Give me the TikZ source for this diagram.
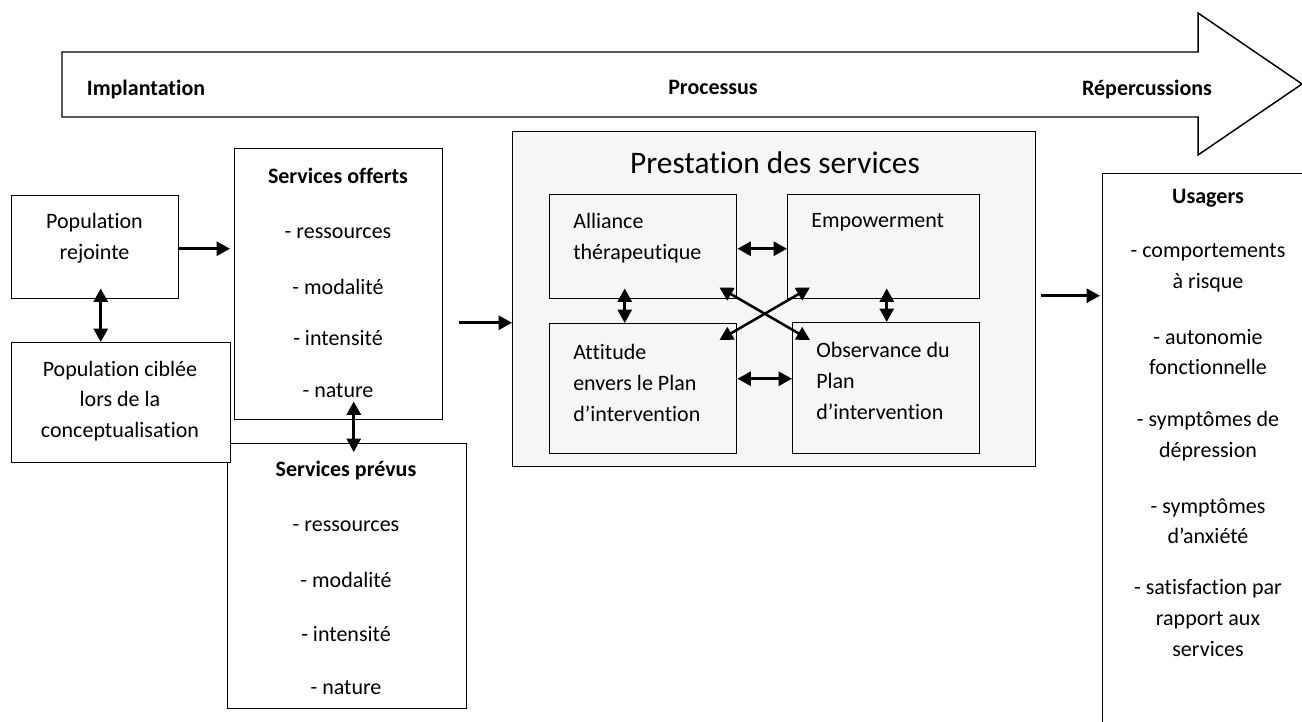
\documentclass[tikz,border=0pt]{standalone}
\usepackage{fontspec}
\setmainfont{Carlito}[Ligatures=NoCommon]
\usetikzlibrary{arrows.meta,calc}
\newlength\px \setlength\px{0.75pt}
\definecolor{prgray}{RGB}{246,246,246}
\begin{document}
\begin{tikzpicture}[x=0.75pt,y=-0.75pt,
  box/.style={draw, line width=1.1pt, inner sep=0pt, anchor=north west, fill=white},
  gbox/.style={box, fill=prgray},
  txt/.style={font=\fontsize{16.5}{23}\selectfont, inner sep=0pt, align=center},
  btxt/.style={font=\fontsize{16.5}{23}\selectfont\bfseries, inner sep=0pt, align=center},
  ltxt/.style={txt, align=left, anchor=west},
  arr/.style={line width=1.9pt, -{Triangle[length=10pt,width=10.5pt]}},
  dbl/.style={line width=1.9pt, {Triangle[length=10pt,width=10.5pt]}-{Triangle[length=10pt,width=10.5pt]}},
]
\useasboundingbox (0,0) rectangle (1302,721);
\clip (0,0) rectangle (1302,721);
\fill[white] (0,0) rectangle (1302,721);

% big process arrow
\draw[line width=1.1pt, line join=miter] (62,52) -- (1198,52) -- (1198,13) -- (1302,84) -- (1198,155) -- (1198,117) -- (62,117) -- cycle;
\node[btxt, anchor=base] (limp) at (146,95) {Implantation};
\node[btxt, anchor=base] (lpro) at (713,94) {Processus};
\node[btxt, anchor=base] (lrep) at (1147,95) {Répercussions};

% left boxes
\node[box, minimum width=167\px, minimum height=103\px] (pr) at (11,195) {};
\node[txt] at (94.5,238) {Population\\rejointe};

\node[box, minimum width=208\px, minimum height=271\px] (so) at (234,148) {};
\node[btxt] at (338,176) {Services offerts};
\node[txt] at (338,233) {- ressources};
\node[txt] at (338,287) {- modalité};
\node[txt] at (338,338) {- intensité};
\node[txt] at (338,391) {- nature};

\node[box, minimum width=239\px, minimum height=265\px] (sp) at (227,443) {};
\node[btxt] at (346,471) {Services prévus};
\node[txt] at (346,526) {- ressources};
\node[txt] at (346,580) {- modalité};
\node[txt] at (346,634) {- intensité};
\node[txt] at (346,688) {- nature};

\node[box, minimum width=219\px, minimum height=120\px] (pc) at (11,342) {};
\node[txt] at (120,401) {Population ciblée\\lors de la\\conceptualisation};

% prestation des services
\node[gbox, minimum width=523\px, minimum height=335\px] (ps) at (512,131) {};
\node[font=\fontsize{23.5}{28}\selectfont, inner sep=0pt] at (775,163) {Prestation des services};

\node[gbox, minimum width=187\px, minimum height=104\px] (al) at (549,194) {};
\node[ltxt] at (573,238) {Alliance\\thérapeutique};
\node[gbox, minimum width=192\px, minimum height=104\px] (em) at (787,194) {};
\node[ltxt] at (811,222) {Empowerment};
\node[gbox, minimum width=187\px, minimum height=130\px] (at) at (549,323) {};
\node[ltxt] at (573,383) {Attitude\\envers le Plan\\d’intervention};
\node[gbox, minimum width=187\px, minimum height=131\px] (ob) at (792,322) {};
\node[ltxt] at (816,381) {Observance du\\Plan\\d’intervention};

% usagers
\node[box, minimum width=240\px, minimum height=600\px] (us) at (1102,173) {};
\node[btxt] at (1208,198) {Usagers};
\node[txt] at (1208,268) {- comportements\\à risque};
\node[txt] at (1208,352) {- autonomie\\fonctionnelle};
\node[txt] at (1208,436) {- symptômes de\\dépression};
\node[txt] at (1208,521) {- symptômes\\d’anxiété};
\node[txt] at (1208,618) {- satisfaction par\\rapport aux\\services};

% connectors
\draw[arr, shorten >=3pt] ($(pr.east)+(0,1.5)$) coordinate (c1) -- (c1 -| so.west);
\draw[dbl] ($(pr.south)+(5.5,-11)$) coordinate (c2) -- (c2 |- pc.north);
\draw[dbl] ($(so.south)+(15,-19)$) coordinate (c3) -- ($(c3 |- sp.north)+(0,9)$);
\draw[arr] ($(so.east)+(16,38.5)$) coordinate (c4) -- (c4 -| ps.west);
\draw[arr, shorten >=1.5pt] ($(ps.east)+(5,-3.5)$) coordinate (c5) -- (c5 -| us.west);

\draw[dbl] ($(al.east)+(0,2)$) coordinate (c6) -- (c6 -| em.west);
\draw[dbl] ($(at.east)+(0,-10)$) coordinate (c7) -- (c7 -| ob.west);
\draw[dbl] ($(al.south)+(-18.5,-11)$) coordinate (c8) -- (c8 |- at.north);
\draw[dbl] ($(em.south)+(3,-11)$) coordinate (c9) -- (c9 |- ob.north);
\draw[dbl] ($(al.south east)+(-18,-12)$) -- ($(ob.north west)+(18,18)$);
\draw[dbl] ($(em.south west)+(23,-12)$) -- ($(at.north east)+(-18,17)$);
\end{tikzpicture}
\end{document}
